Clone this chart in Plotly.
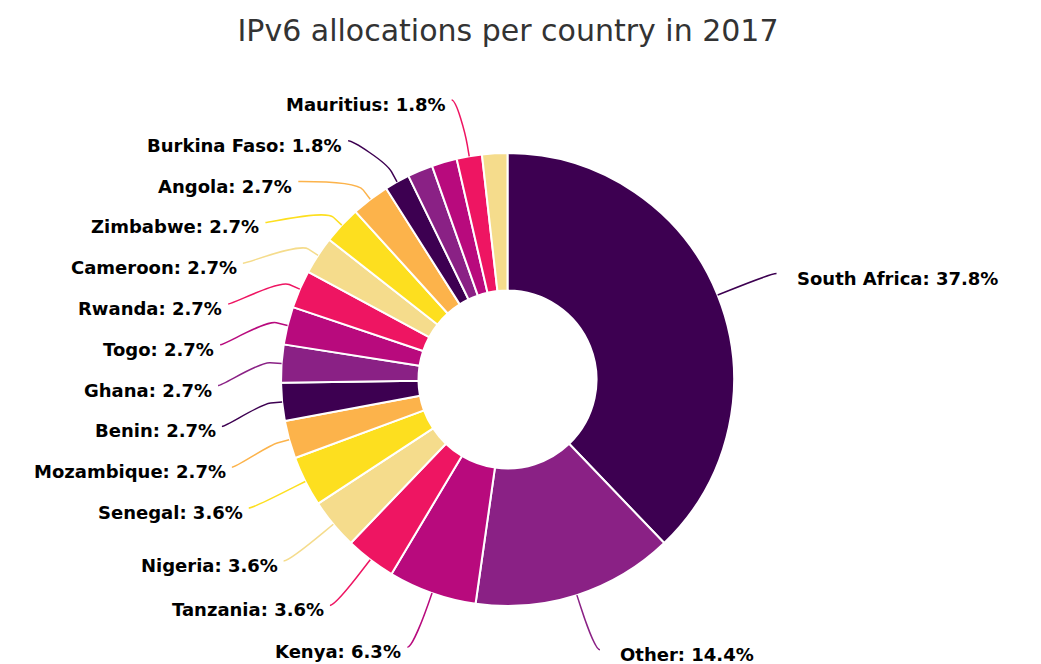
import math
import plotly.graph_objects as go

# ---- data ----
title_text = "IPv6 allocations per country in 2017"
countries = ["South Africa", "Other", "Kenya", "Tanzania", "Nigeria", "Senegal",
             "Mozambique", "Benin", "Ghana", "Togo", "Rwanda", "Cameroon",
             "Zimbabwe", "Angola", "Burkina Faso", "Uganda", "Namibia",
             "Mauritius", "Malawi"]
allocations = [42, 16, 7, 4, 4, 4, 3, 3, 3, 3, 3, 3, 3, 3, 2, 2, 2, 2, 2]
hidden_labels = ["Uganda", "Namibia", "Malawi"]   # labels suppressed (overlap)
palette = ["#3d0051", "#8a2185", "#b80a7d", "#ee1562", "#f5dc8c", "#fddf1f", "#fcb34b"]

# ---- layout geometry (pixels) ----
W, H = 1041, 664
CX, CY, R = 507.5, 379.5, 226.5
LABEL_DIST = 57.5
PAD = 5.5
CONN_OFF = 11.5
SLOT = 40.8
TOP, BOTTOM = 100, 652
FONT = "DejaVu Sans"

colors = [palette[i % len(palette)] for i in range(len(countries))]
total = sum(allocations)


def px(x, y):
    return x / W, 1 - y / H


# angles (clockwise from 12 o'clock)
mids = []
cum = 0
for v in allocations:
    mids.append(2 * math.pi * (cum + v / 2) / total)
    cum += v

RL = R + LABEL_DIST
items = {"left": [], "right": []}
for i, th in enumerate(mids):
    if countries[i] in hidden_labels:
        continue
    side = "left" if math.sin(th) < 0 else "right"
    natural = CY - math.cos(th) * RL
    items[side].append([natural, i])


def distribute(lst):
    lst.sort()
    boxes = [{"t": [n], "idx": [i], "p": min(max(n, TOP), BOTTOM)} for n, i in lst]
    changed = True
    while changed:
        changed = False
        for k in range(len(boxes) - 1):
            a, b = boxes[k], boxes[k + 1]
            if a["p"] + len(a["t"]) * SLOT > b["p"]:
                t = a["t"] + b["t"]
                n = len(t)
                p = sum(t) / n - (n - 1) * SLOT / 2
                p = min(max(p, TOP), BOTTOM - (n - 1) * SLOT)
                boxes[k] = {"t": t, "idx": a["idx"] + b["idx"], "p": p}
                del boxes[k + 1]
                changed = True
                break
    out = {}
    for b in boxes:
        for j, i in enumerate(b["idx"]):
            out[i] = b["p"] + j * SLOT
    return out


annotations = []
shapes = []
for side in ("left", "right"):
    ys = distribute(items[side])
    sgn = -1 if side == "left" else 1
    for i, ly in ys.items():
        th = mids[i]
        dy = max(-1, min(1, (ly - CY) / RL))
        lx = CX + sgn * (math.cos(math.asin(dy)) * RL + PAD)
        tx, ty = CX + R * math.sin(th), CY - R * math.cos(th)
        bx, by = CX + (R + CONN_OFF) * math.sin(th), CY - (R + CONN_OFF) * math.cos(th)
        c1 = px(lx - sgn * 5, ly)
        c2 = px(2 * bx - tx, 2 * by - ty)
        p0 = px(lx, ly)
        pb = px(bx, by)
        pt = px(tx, ty)
        path = (f"M{p0[0]:.5f},{p0[1]:.5f} C{c1[0]:.5f},{c1[1]:.5f} "
                f"{c2[0]:.5f},{c2[1]:.5f} {pb[0]:.5f},{pb[1]:.5f} L{pt[0]:.5f},{pt[1]:.5f}")
        shapes.append(dict(type="path", xref="paper", yref="paper", path=path,
                           line=dict(color=colors[i], width=1.5)))
        ax = lx - 4 if side == "left" else lx + 18
        ap = px(ax, ly + 4.5)
        pct = allocations[i] / total * 100
        annotations.append(dict(
            x=ap[0], y=ap[1], xref="paper", yref="paper", showarrow=False,
            xanchor="right" if side == "left" else "left", yanchor="middle",
            text=f"<b>{countries[i]}: {pct:.1f}%</b>",
            font=dict(family=FONT, size=18, color="#000000")))

dx0, dy0 = px(CX - R, CY + R)
dx1, dy1 = px(CX + R, CY - R)

fig = go.Figure(go.Pie(
    labels=countries, values=allocations, sort=False, direction="clockwise",
    rotation=0, hole=0.393, textinfo="none", showlegend=False,
    marker=dict(colors=colors, line=dict(color="#ffffff", width=2)),
    domain=dict(x=[dx0, dx1], y=[dy0, dy1]),
    hovertemplate="%{label}: %{percent:.1%}<extra></extra>"))

fig.update_layout(
    width=W, height=H, margin=dict(l=0, r=0, t=0, b=0),
    paper_bgcolor="#ffffff", plot_bgcolor="#ffffff",
    title=dict(text=title_text, x=508 / W, xanchor="center", y=1 - 30 / H,
               yanchor="middle", yref="container",
               font=dict(family=FONT, size=30, color="#333333")),
    annotations=annotations, shapes=shapes)

fig.write_html("out.html", config={"displayModeBar": False},
               post_script="document.body.style.margin='0';")
